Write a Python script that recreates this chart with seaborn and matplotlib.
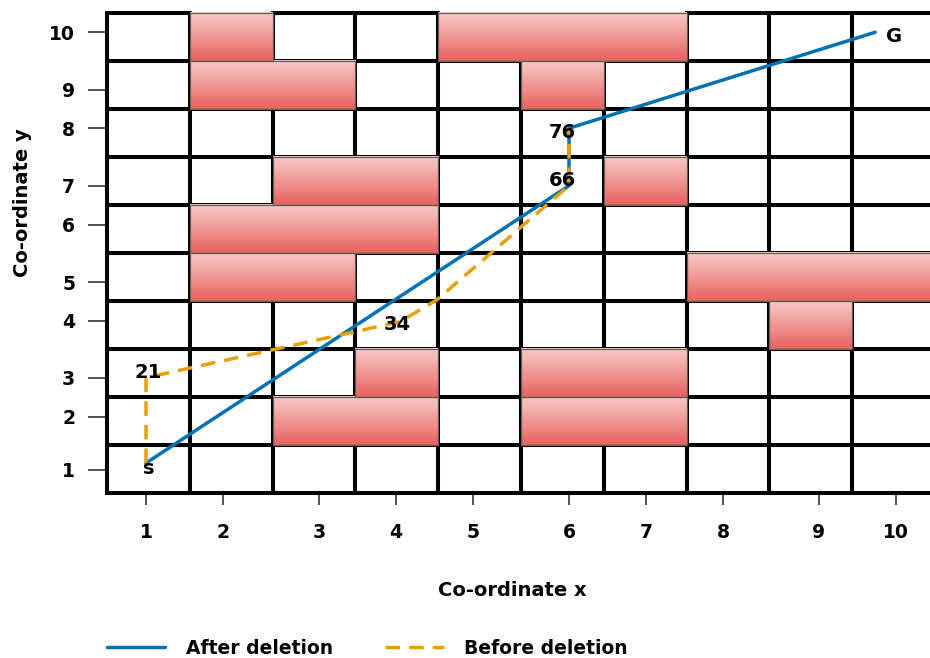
import numpy as np
import pandas as pd
import matplotlib.pyplot as plt
import seaborn as sns
from matplotlib.patches import Rectangle
from matplotlib.colors import LinearSegmentedColormap

# grid of 10 x 10 cells, obstacle cells given as (row, col), 1-based, row 1 at bottom
n_cols = 10
n_rows = 10
obs_row = [10, 10, 10, 10, 9, 9, 9, 7, 7, 7, 6, 6, 6, 5, 5, 5, 5, 5, 4, 3, 3, 3, 2, 2, 2, 2]
obs_col = [2, 5, 6, 7, 2, 3, 6, 3, 4, 7, 2, 3, 4, 2, 3, 8, 9, 10, 9, 4, 6, 7, 3, 4, 6, 7]

# path nodes (cell numbers) with their labels
node_cells = [1, 21, 34, 66, 76, 100]
node_names = ["s", "21", "34", "66", "76", "G"]

# paths in axis co-ordinates (tick label units)
after_x = [1, 6, 6, 9.73]
after_y = [1.13, 7, 8, 10]
before_x = [1, 1, 4.05, 4.53, 6, 6]
before_y = [1.13, 3, 3.98, 4.54, 7, 8]

tick_labels = list(range(1, 11))

# where the tick labels sit on the cell grid (layout)
x_tick_pos = [0.471, 1.401, 2.560, 3.490, 4.420, 5.580, 6.510, 7.440, 8.599, 9.529]
y_tick_pos = [0.479, 1.589, 2.400, 3.587, 4.387, 5.580, 6.398, 7.593, 8.390, 9.592]

sns.set_theme(style="white")
plt.rcParams["font.family"] = ["DejaVu Sans"]
plt.rcParams["font.weight"] = "bold"
plt.rcParams["text.color"] = "black"
plt.rcParams["xtick.labelcolor"] = "black"
plt.rcParams["ytick.labelcolor"] = "black"

fig = plt.figure(figsize=(9.3, 6.58), dpi=100)
ax = fig.add_axes([105 / 930, (658 - 495) / 658, (930 - 105) / 930, (495 - 10.6) / 658])

red_cmap = LinearSegmentedColormap.from_list("obst", ["#f7cccb", "#e8625e"])
grad = np.linspace(0, 1, 256).reshape(-1, 1)

obstacles = set(zip(obs_row, obs_col))

# white free cells with thick black borders
for r in range(1, n_rows + 1):
    for c in range(1, n_cols + 1):
        if (r, c) not in obstacles:
            ax.add_patch(Rectangle((c - 1, r - 1), 1, 1, facecolor="white",
                                   edgecolor="black", lw=2.9, zorder=1))

# obstacles, merged into horizontal runs, light at the top, darker at the bottom
for r in range(1, n_rows + 1):
    cols = sorted(c for (rr, c) in obstacles if rr == r)
    runs = []
    for c in cols:
        if runs and c == runs[-1][1] + 1:
            runs[-1][1] = c
        else:
            runs.append([c, c])
    for c0, c1 in runs:
        ax.imshow(grad, extent=(c0 - 1, c1, r - 1, r), cmap=red_cmap,
                  aspect="auto", origin="upper", interpolation="bilinear", zorder=2)
        ax.add_patch(Rectangle((c0 - 1, r - 1), c1 - c0 + 1, 1, facecolor="none",
                               edgecolor="#6b5a5a", lw=0.9, zorder=3))

# paths: label units -> grid position through the tick layout
ax_x = np.interp(after_x, tick_labels, x_tick_pos)
ax_y = np.interp(after_y, tick_labels, y_tick_pos)
bx_x = np.interp(before_x, tick_labels, x_tick_pos)
bx_y = np.interp(before_y, tick_labels, y_tick_pos)

after = pd.DataFrame({"x": ax_x, "y": ax_y})
before = pd.DataFrame({"x": bx_x, "y": bx_y})
sns.lineplot(data=after, x="x", y="y", sort=False, estimator=None, color="#0072B2",
             lw=2.5, label="After deletion", ax=ax, zorder=4)
sns.lineplot(data=before, x="x", y="y", sort=False, estimator=None, color="#E69F00",
             lw=2.5, linestyle=(0, (4.2, 2.6)), label="Before deletion", ax=ax, zorder=5)

# node labels at cell centres
for cell, name in zip(node_cells, node_names):
    r = (cell - 1) // n_cols
    c = (cell - 1) % n_cols
    ax.text(c + 0.5, r + 0.5, name, ha="center", va="center", fontsize=14,
            fontweight="bold", color="black", zorder=6)

ax.set_xlim(-0.024, (930 - 107) / 82.8)
ax.set_ylim(-0.042, 10.042)
ax.set_xticks(x_tick_pos)
ax.set_xticklabels(tick_labels)
ax.set_yticks(y_tick_pos)
ax.set_yticklabels(tick_labels)
ax.tick_params(axis="x", bottom=True, length=7.5, width=1.2, color="#333333",
               pad=13, labelsize=13.5, labelcolor="black")
ax.tick_params(axis="y", left=True, length=12.5, width=1.2, color="#333333",
               pad=9, labelsize=13.5, labelcolor="black")
for lab in ax.get_xticklabels() + ax.get_yticklabels():
    lab.set_fontweight("bold")
for s in ax.spines.values():
    s.set_visible(False)
ax.set_xlabel("")
ax.set_ylabel("")

fig.text(512 / 930, 1 - 591 / 658, "Co-ordinate x", ha="center", va="center",
         fontsize=14, fontweight="bold", color="black")
fig.text(22 / 930, 1 - 203 / 658, "Co-ordinate y", ha="center", va="center",
         rotation=90, fontsize=14, fontweight="bold", color="black")

handles, labels = ax.get_legend_handles_labels()
ax.get_legend().remove()
leg = fig.legend(handles, labels, loc="center left", bbox_to_anchor=(107 / 930, 10 / 658),
                 ncol=2, frameon=False, borderpad=0, borderaxespad=0, handlelength=3.1,
                 handletextpad=1.1, columnspacing=2.8,
                 prop={"size": 13.5, "weight": "bold"})
for t in leg.get_texts():
    t.set_color("black")

fig.savefig("out.png", dpi=100)
